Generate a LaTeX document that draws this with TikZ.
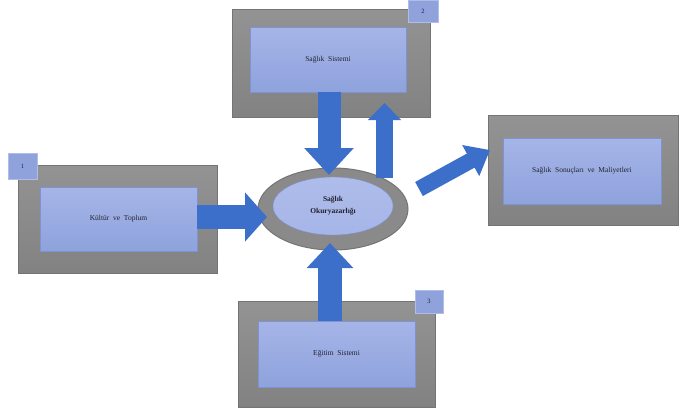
\documentclass[tikz,border=0pt]{standalone}
\usepackage{fontspec}
\setmainfont{Liberation Serif}
\usetikzlibrary{arrows.meta,shapes.geometric}
\definecolor{framegray}{HTML}{8A8A8A}
\definecolor{frametop}{HTML}{939393}
\definecolor{framebot}{HTML}{828282}
\definecolor{framedark}{HTML}{747474}
\definecolor{innertop}{HTML}{A6B5E8}
\definecolor{innerbot}{HTML}{8EA2DC}
\definecolor{innerline}{HTML}{7F93D2}
\definecolor{tagfill}{HTML}{8FA2DC}
\definecolor{tagline}{HTML}{B0BDE8}
\definecolor{arrowblue}{HTML}{3C6FCA}
\definecolor{txt}{HTML}{22222F}
\tikzset{
  framebox/.style={rectangle, inner sep=0pt, outer sep=0pt, top color=frametop, bottom color=framebot, draw=framedark, line width=0.6pt},
  innerbox/.style={rectangle, inner sep=0pt, outer sep=0pt, top color=innertop, bottom color=innerbot, draw=innerline, line width=0.5pt, text=txt, font=\fontsize{7.5}{9}\selectfont},
  tagbox/.style={rectangle, inner sep=0pt, outer sep=0pt, fill=tagfill, draw=tagline, line width=0.6pt, text=txt, font=\fontsize{6.5}{7}\selectfont},
  blockarrow/.style={draw=arrowblue, line width=#1},
  blockarrow/.default=23pt
}
\begin{document}
\begin{tikzpicture}[x=1pt,y=-1pt]
\useasboundingbox (0,0) rectangle (679,413);
\fill[white] (0,0) rectangle (679,413);

% top box (2)
\node[framebox, minimum width=198pt, minimum height=108pt] (s2out) at (331,63) {};
\node[innerbox, minimum width=156pt, minimum height=65pt] (s2in) at (328,59.5) {Sağlık\ \ Sistemi};
\node[tagbox, minimum width=30pt, minimum height=22pt] (t2) at (423,11) {2};

% left box (1)
\node[framebox, minimum width=199pt, minimum height=108pt] (s1out) at (117.5,219) {};
\node[innerbox, minimum width=157pt, minimum height=64pt] (s1in) at (118.5,219) {Kültür\ \ ve\ \ Toplum};
\node[tagbox, minimum width=29pt, minimum height=26pt] (t1) at (22.5,166) {1};

% right box
\node[framebox, minimum width=190pt, minimum height=110pt] (s4out) at (583,170) {};
\node[innerbox, minimum width=158pt, minimum height=66pt] (s4in) at (582,171) {Sağlık\ \ Sonuçları\ \ ve\ \ Maliyetleri};

% bottom box (3)
\node[framebox, minimum width=197pt, minimum height=106pt] (s3out) at (336.5,354) {};
\node[innerbox, minimum width=157pt, minimum height=66pt] (s3in) at (336.5,354) {Eğitim\ \ Sistemi};
\node[tagbox, minimum width=28pt, minimum height=23pt] (t3) at (429,301.5) {3};

% central ellipse
\node[ellipse, inner sep=0pt, outer sep=0pt, minimum width=150pt, minimum height=82pt, fill=framegray, draw=framedark, line width=1pt] (eout) at (333,209) {};
\node[ellipse, inner sep=0pt, outer sep=0pt, minimum width=120pt, minimum height=58pt, top color=innertop!90!white, bottom color=innertop, draw=innerline, line width=0.4pt, text=txt, font=\bfseries\fontsize{7.5}{12}\selectfont, align=center] (ein) at (333,206) {Sağlık\\Okuryazarlığı};

% arrow end points
\coordinate (a1s) at (329,92);
\coordinate (a1e) at (329,175);
\coordinate (a2s) at (384.5,178);
\coordinate (a2e) at (384.5,103);
\coordinate (a3s) at (197,217);
\coordinate (a3e) at (267,217);
\coordinate (a4s) at (330,321);
\coordinate (a4e) at (330,243);
\coordinate (a5s) at (419,189);
\coordinate (a5e) at (490,150);

% block arrows
\draw[blockarrow=23pt, -{Triangle[width=48pt,length=27pt]}, arrowblue] (a1s) -- (a1e);
\draw[blockarrow=17pt, -{Triangle[width=32pt,length=17pt]}, arrowblue] (a2s) -- (a2e);
\draw[blockarrow=24pt, -{Triangle[width=48pt,length=22pt]}, arrowblue] (a3s) -- (a3e);
\draw[blockarrow=24pt, -{Triangle[width=45pt,length=25pt]}, arrowblue] (a4s) -- (a4e);
\draw[blockarrow=16pt, -{Triangle[width=34pt,length=22pt]}, arrowblue] (a5s) -- (a5e);
\end{tikzpicture}
\end{document}
